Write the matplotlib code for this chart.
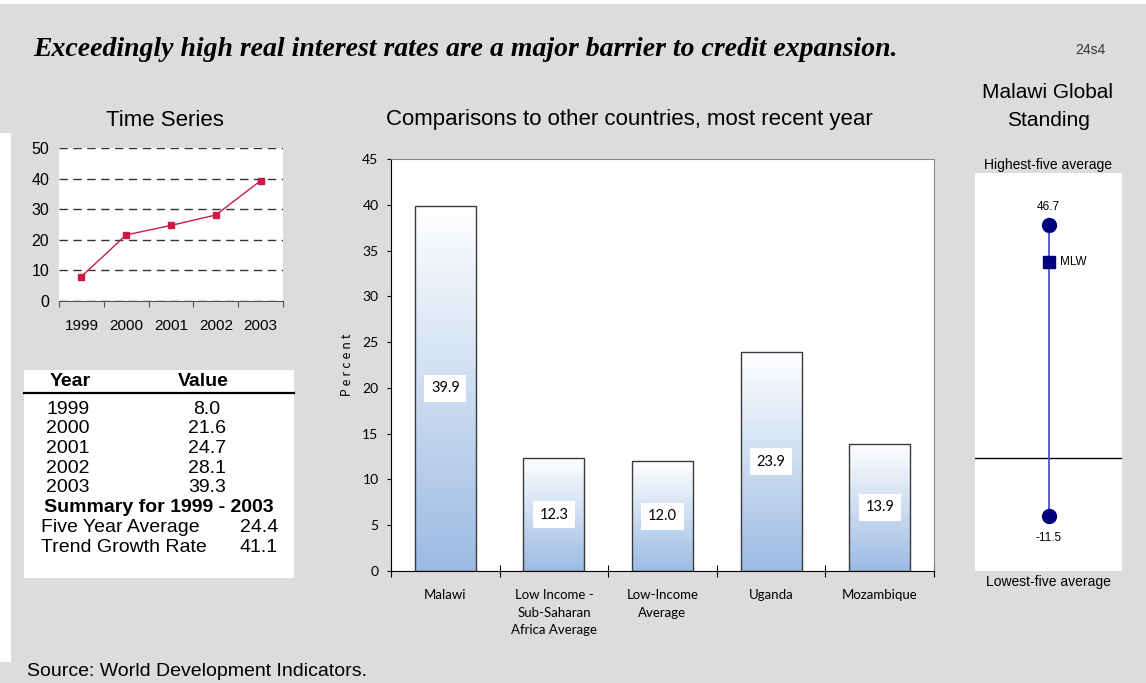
import numpy as np
import matplotlib
matplotlib.use("Agg")
import matplotlib.pyplot as plt
from matplotlib.colors import LinearSegmentedColormap
from matplotlib.patches import Rectangle
from matplotlib.lines import Line2D

W, H = 1146, 683
BG = '#DCDCDC'
RED = '#CC1A44'
NAVY = '#000080'

# time series
years = ['1999', '2000', '2001', '2002', '2003']
values = [8.0, 21.6, 24.7, 28.1, 39.3]
five_year_avg = 24.4
trend_growth = 41.1

# country comparison
countries = ['Malawi', 'Low Income -\nSub-Saharan\nAfrica Average',
             'Low-Income\nAverage', 'Uganda', 'Mozambique']
country_values = [39.9, 12.3, 12.0, 23.9, 13.9]

# global standing
highest_five = 46.7
lowest_five = -11.5
malawi_latest = 39.3

plt.rcParams['font.family'] = ['Liberation Sans', 'DejaVu Sans']

fig = plt.figure(figsize=(W / 100, H / 100), dpi=100, facecolor=BG)


def box(x0, y0, x1, y1):
    # pixel box measured from the top-left corner -> figure rect
    return [x0 / W, 1 - y1 / H, (x1 - x0) / W, (y1 - y0) / H]


def fx(x):
    return x / W


def fy(y):
    return 1 - y / H


# white margins of the page
fig.patches.append(Rectangle((0, fy(4)), 1, 4 / H, transform=fig.transFigure,
                             fc='white', ec='none'))
fig.patches.append(Rectangle((0, fy(662)), 11 / W, (662 - 133) / H,
                             transform=fig.transFigure, fc='white', ec='none'))

fig.text(fx(33), fy(50),
         'Exceedingly high real interest rates are a major barrier to credit expansion.',
         family='Liberation Serif', weight='bold', style='italic', fontsize=20,
         va='center', ha='left')
fig.text(fx(1090), fy(50), '24s4', fontsize=10, color='#333333', ha='center', va='center')

# ---- time series ----
fig.text(fx(165), fy(120), 'Time Series', fontsize=16, ha='center', va='center')
ax1 = fig.add_axes(box(59, 148, 283, 301))
ax1.set_facecolor('white')
xs = np.arange(len(years))
ax1.plot(xs, values, color=RED, lw=1, marker='s', ms=4, zorder=3)
ax1.set_xlim(-0.5, len(years) - 0.5)
ax1.set_ylim(0, 50)
ax1.set_yticks(range(0, 51, 10))
ax1.yaxis.grid(True, ls=(0, (6, 4)), color='#333333', lw=1)
ax1.set_axisbelow(True)
for s in ['top', 'right', 'left']:
    ax1.spines[s].set_visible(False)
ax1.spines['bottom'].set_color('#555555')
ax1.set_xticks(np.arange(-0.5, len(years), 1))
ax1.set_xticklabels([])
ax1.set_xticks(xs, minor=True)
ax1.set_xticklabels(years, minor=True)
ax1.tick_params(axis='x', which='major', length=4, color='#555555')
ax1.tick_params(axis='x', which='minor', length=0, pad=13, labelsize=11)
ax1.tick_params(axis='y', length=0, pad=7, labelsize=11.5)

# ---- summary table ----
fig.patches.append(Rectangle((fx(24), fy(578)), (294 - 24) / W, (578 - 370) / H,
                             transform=fig.transFigure, fc='white', ec='none'))
tfs = 14
fig.text(fx(70), fy(382), 'Year', weight='bold', fontsize=tfs, ha='center', va='center')
fig.text(fx(203), fy(382), 'Value', weight='bold', fontsize=tfs, ha='center', va='center')
fig.add_artist(Line2D([fx(24), fx(294)], [fy(393), fy(393)], color='black', lw=1.6))
for i, (yr, v) in enumerate(zip(years, values)):
    yy = 409 + i * 19.7
    fig.text(fx(46), fy(yy), yr, fontsize=tfs, ha='left', va='center')
    fig.text(fx(207), fy(yy), f'{v:.1f}', fontsize=tfs, ha='center', va='center')
fig.text(fx(159), fy(508), f'Summary for {years[0]} - {years[-1]}', weight='bold',
         fontsize=tfs, ha='center', va='center')
fig.text(fx(41), fy(528), 'Five Year Average', fontsize=tfs, ha='left', va='center')
fig.text(fx(278), fy(528), f'{five_year_avg:.1f}', fontsize=tfs, ha='right', va='center')
fig.text(fx(41), fy(548), 'Trend Growth Rate', fontsize=tfs, ha='left', va='center')
fig.text(fx(278), fy(548), f'{trend_growth:.1f}', fontsize=tfs, ha='right', va='center')

# ---- comparison bars ----
fig.text(fx(629), fy(120), 'Comparisons to other countries, most recent year',
         fontsize=16, ha='center', va='center')
ax2 = fig.add_axes(box(391, 159, 934, 571))
ax2.set_facecolor('white')
xb = np.arange(len(countries))
bars = ax2.bar(xb, country_values, width=0.56, fc='none', ec='#3A3A3A', lw=1, zorder=3)
cmap = LinearSegmentedColormap.from_list('barfill', ['white', '#9CBBE3'])
grad = np.linspace(0, 1, 256).reshape(-1, 1)
for b in bars:
    x0, w, h = b.get_x(), b.get_width(), b.get_height()
    ax2.imshow(grad, extent=[x0, x0 + w, 0, h], origin='upper', aspect='auto',
               cmap=cmap, vmin=0, vmax=1, zorder=2)
for i, v in enumerate(country_values):
    ax2.text(i, v / 2, f'{v:.1f}', ha='center', va='center', family='Lato',
             fontsize=10.5, zorder=4,
             bbox=dict(boxstyle='square,pad=0.45', fc='white', ec='none'))
ax2.set_xlim(-0.5, len(countries) - 0.5)
ax2.set_ylim(0, 45)
ax2.set_yticks(range(0, 46, 5))
ax2.set_xticks(np.arange(-0.5, len(countries), 1))
ax2.set_xticklabels([])
ax2.set_xticks(xb, minor=True)
ax2.set_xticklabels(countries, minor=True, family='Lato', fontsize=9.5, linespacing=1.55)
ax2.tick_params(axis='x', which='major', direction='inout', length=8)
ax2.tick_params(axis='x', which='minor', length=0, pad=13)
ax2.tick_params(axis='y', direction='out', length=3, pad=6, labelsize=10)
for lab in ax2.get_yticklabels():
    lab.set_family('Lato')
for s in ['top', 'right']:
    ax2.spines[s].set_color('#888888')
fig.text(fx(347), fy(365), 'P e r c e n t', family='Lato', fontsize=9,
         rotation=90, ha='center', va='center')

# ---- global standing ----
fig.text(fx(1048), fy(106), 'Malawi Global\nStanding', fontsize=15,
         ha='center', va='center', linespacing=1.6)
fig.text(fx(1048), fy(165), 'Highest-five average', fontsize=10, ha='center', va='center')
fig.text(fx(1048), fy(582), 'Lowest-five average', fontsize=10, ha='center', va='center')
ax3 = fig.add_axes(box(975, 173, 1122, 571))
ax3.set_facecolor('white')
span = highest_five - lowest_five
ax3.set_xlim(-1, 1)
ax3.set_ylim(lowest_five - 0.19 * span, highest_five + 0.179 * span)
ax3.axhline(0, color='black', lw=1)
ax3.plot([0, 0], [lowest_five, highest_five], color='#5050C8', lw=1.3, zorder=2)
ax3.plot([0, 0], [lowest_five, highest_five], 'o', ms=10, color=NAVY, zorder=3)
ax3.plot(0, malawi_latest, 's', ms=9, color=NAVY, zorder=3)
ax3.annotate(f'{highest_five:.1f}', (0, highest_five), xytext=(0, 13),
             textcoords='offset points', ha='center', va='center', fontsize=8.5)
ax3.annotate(f'{lowest_five:.1f}', (0, lowest_five), xytext=(0, -16),
             textcoords='offset points', ha='center', va='center', fontsize=8.5)
ax3.annotate('MLW', (0, malawi_latest), xytext=(8, 0),
             textcoords='offset points', ha='left', va='center', fontsize=8.5)
ax3.set_xticks([])
ax3.set_yticks([])
for s in ax3.spines.values():
    s.set_visible(False)

fig.text(fx(27), fy(672), 'Source: World Development Indicators.', fontsize=14,
         ha='left', va='center')

fig.savefig('out.png', dpi=100, facecolor=BG)
